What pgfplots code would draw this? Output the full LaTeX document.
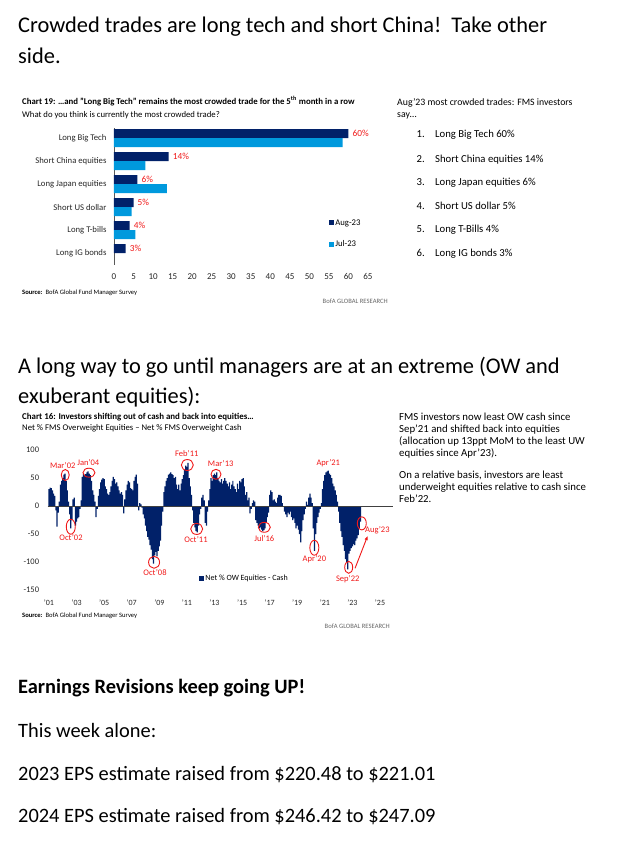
\documentclass[border=0pt]{standalone}
\usepackage{fontspec}
\setmainfont{Carlito}
\usepackage{pgfplots}
\usepackage{pgfplotstable}
\pgfplotsset{compat=1.18}
\usetikzlibrary{arrows.meta}

\definecolor{bofanavy}{RGB}{1,33,105}
\definecolor{bofasky}{RGB}{0,153,221}
\definecolor{annred}{RGB}{240,24,24}
\newcommand{\fs}[1]{\fontsize{#1}{#1}\selectfont}

\pgfplotsset{
  navysq/.style={legend image code/.code={\fill[bofanavy] (0pt,-2.5pt) rectangle (5pt,2.5pt);}},
  skysq/.style={legend image code/.code={\fill[bofasky] (0pt,-2.5pt) rectangle (5pt,2.5pt);}},
}

% Net % FMS OW equities - net % OW cash, monthly
\pgfplotstableread[row sep=\\]{
t v\\
2001.000 30\\2001.083 33\\2001.167 32\\2001.250 28\\2001.333 22\\2001.417 18\\2001.500 -8\\2001.583 -37\\2001.667 -12\\2001.750 8\\2001.833 38\\2001.917 45\\
2002.000 50\\2002.083 56\\2002.167 58\\2002.250 45\\2002.333 28\\2002.417 8\\2002.500 -15\\2002.583 -40\\2002.667 -25\\2002.750 12\\2002.833 15\\2002.917 -35\\
2003.000 -28\\2003.083 -22\\2003.167 -20\\2003.250 -5\\2003.333 10\\2003.417 52\\2003.500 58\\2003.583 55\\2003.667 57\\2003.750 60\\2003.833 62\\2003.917 58\\
2004.000 55\\2004.083 45\\2004.167 28\\2004.250 20\\2004.333 8\\2004.417 -20\\2004.500 -5\\2004.583 18\\2004.667 30\\2004.750 42\\2004.833 47\\2004.917 50\\
2005.000 48\\2005.083 35\\2005.167 30\\2005.250 22\\2005.333 20\\2005.417 25\\2005.500 35\\2005.583 45\\2005.667 52\\2005.750 48\\2005.833 40\\2005.917 42\\
2006.000 35\\2006.083 28\\2006.167 22\\2006.250 25\\2006.333 20\\2006.417 -13\\2006.500 12\\2006.583 28\\2006.667 38\\2006.750 45\\2006.833 42\\2006.917 32\\
2007.000 30\\2007.083 28\\2007.167 45\\2007.250 52\\2007.333 56\\2007.417 40\\2007.500 -8\\2007.583 5\\2007.667 3\\2007.750 -3\\2007.833 -15\\2007.917 -22\\
2008.000 -35\\2008.083 -45\\2008.167 -55\\2008.250 -60\\2008.333 -70\\2008.417 -78\\2008.500 -95\\2008.583 -103\\2008.667 -88\\2008.750 -82\\2008.833 -90\\2008.917 -80\\
2009.000 -72\\2009.083 -62\\2009.167 -35\\2009.250 -10\\2009.333 25\\2009.417 35\\2009.500 45\\2009.583 50\\2009.667 56\\2009.750 58\\2009.833 60\\2009.917 57\\
2010.000 55\\2010.083 50\\2010.167 52\\2010.250 38\\2010.333 30\\2010.417 38\\2010.500 28\\2010.583 40\\2010.667 48\\2010.750 55\\2010.833 65\\2010.917 72\\
2011.000 70\\2011.083 77\\2011.167 50\\2011.250 35\\2011.333 20\\2011.417 -8\\2011.500 -30\\2011.583 -38\\2011.667 -45\\2011.750 -47\\2011.833 -35\\2011.917 -15\\
2012.000 -5\\2012.083 15\\2012.167 20\\2012.250 10\\2012.333 -30\\2012.417 -35\\2012.500 -10\\2012.583 10\\2012.667 30\\2012.750 50\\2012.833 45\\2012.917 55\\
2013.000 58\\2013.083 55\\2013.167 60\\2013.250 50\\2013.333 45\\2013.417 42\\2013.500 48\\2013.583 40\\2013.667 45\\2013.750 50\\2013.833 45\\2013.917 40\\
2014.000 35\\2014.083 42\\2014.167 30\\2014.250 38\\2014.333 45\\2014.417 35\\2014.500 30\\2014.583 25\\2014.667 40\\2014.750 30\\2014.833 45\\2014.917 42\\
2015.000 48\\2015.083 50\\2015.167 35\\2015.250 20\\2015.333 25\\2015.417 10\\2015.500 15\\2015.583 -13\\2015.667 -5\\2015.750 5\\2015.833 10\\2015.917 8\\
2016.000 -25\\2016.083 -30\\2016.167 -35\\2016.250 -40\\2016.333 -38\\2016.417 -42\\2016.500 -45\\2016.583 -43\\2016.667 -40\\2016.750 -30\\2016.833 -20\\2016.917 -12\\
2017.000 20\\2017.083 28\\2017.167 25\\2017.250 10\\2017.333 12\\2017.417 8\\2017.500 5\\2017.583 15\\2017.667 20\\2017.750 20\\2017.833 18\\2017.917 5\\
2018.000 0\\2018.083 -10\\2018.167 -15\\2018.250 -20\\2018.333 -12\\2018.417 -15\\2018.500 -10\\2018.583 -20\\2018.667 -25\\2018.750 -22\\2018.833 -30\\2018.917 -40\\
2019.000 -35\\2019.083 -42\\2019.167 -50\\2019.250 -65\\2019.333 -45\\2019.417 -25\\2019.500 -15\\2019.583 -5\\2019.667 8\\2019.750 2\\2019.833 15\\2019.917 22\\
2020.000 15\\2020.083 5\\2020.167 -40\\2020.250 -80\\2020.333 -50\\2020.417 -30\\2020.500 -20\\2020.583 -12\\2020.667 -5\\2020.750 5\\2020.833 30\\2020.917 45\\
2021.000 55\\2021.083 60\\2021.167 62\\2021.250 63\\2021.333 58\\2021.417 55\\2021.500 50\\2021.583 40\\2021.667 35\\2021.750 28\\2021.833 20\\2021.917 8\\
2022.000 -10\\2022.083 -30\\2022.167 -45\\2022.250 -55\\2022.333 -70\\2022.417 -80\\2022.500 -95\\2022.583 -100\\2022.667 -113\\2022.750 -85\\2022.833 -80\\2022.917 -75\\
2023.000 -72\\2023.083 -68\\2023.167 -70\\2023.250 -62\\2023.333 -58\\2023.417 -52\\2023.500 -40\\2023.583 -28\\
}\fmsdata

\begin{document}
\begin{tikzpicture}[x=1pt,y=1pt]
\path[use as bounding box] (0,0) rectangle (618,-854);

% ---- headings ----
\node[anchor=base west, inner sep=0pt, font=\fs{22.4}] at (18,-32) {Crowded trades are long tech and short China!\ \ Take other};
\node[anchor=base west, inner sep=0pt, font=\fs{22.4}] at (18,-63) {side.};
\node[anchor=base west, inner sep=0pt, font=\fs{22.4}] at (18,-373) {A long way to go until managers are at an extreme (OW and};
\node[anchor=base west, inner sep=0pt, font=\fs{22.4}] at (18,-403) {exuberant equities):};

% ---- chart 19 texts ----
\node[anchor=base west, inner sep=0pt, font=\fs{8.8}\bfseries] at (22,-104.5) {Chart 19: …and "Long Big Tech" remains the most crowded trade for the 5\textsuperscript{th} month in a row};
\node[anchor=base west, inner sep=0pt, font=\fs{8.7}] at (22,-117) {What do you think is currently the most crowded trade?};
\node[anchor=base west, inner sep=0pt, font=\fs{6.6}] at (22,-294) {\textbf{Source:}\ \ BofA Global Fund Manager Survey};
\node[anchor=base east, inner sep=0pt, font=\fs{6.6}, text=black!60] at (388,-303) {BofA GLOBAL RESEARCH};

\node[anchor=base west, inner sep=0pt, font=\fs{9.8}] at (397,-105) {Aug'23 most crowded trades: FMS investors};
\node[anchor=base west, inner sep=0pt, font=\fs{9.8}] at (397,-117) {say…};
\foreach \n/\txt/\yy in {1./{Long Big Tech 60\%}/137.8, 2./{Short China equities 14\%}/162.2,
    3./{Long Japan equities 6\%}/185.5, 4./{Short US dollar 5\%}/209.2,
    5./{Long T-Bills 4\%}/232.2, 6./{Long IG bonds 3\%}/256.2}{
  \node[anchor=base west, inner sep=0pt, font=\fs{10.7}] at (416.5,-\yy) {\n};
  \node[anchor=base west, inner sep=0pt, font=\fs{10.7}] at (435,-\yy) {\txt};
}

% ---- chart 19 ----
\begin{axis}[
  at={(114pt,-128pt)}, anchor=north west,
  scale only axis, width=254pt, height=136.97pt,
  xbar, bar width=9pt,
  xmin=0, xmax=65, ymin=-0.52, ymax=5.435,
  enlargelimits=false, clip=false,
  xtick={0,5,...,65},
  ytick={0,...,5},
  yticklabels={Long IG bonds,Long T-bills,Short US dollar,Long Japan equities,Short China equities,Long Big Tech},
  axis lines*=left, axis line style={-},
  x axis line style={draw=none},
  y axis line style={black!65, line width=0.6pt},
  major tick length=0pt, tick style={draw=none},
  xticklabel style={font=\fs{9}, text=black!85, yshift=-5pt},
  yticklabel style={font=\fs{8.7}, text=black!85, xshift=-4pt},
  /pgf/number format/assume math mode=true,
  legend style={at={(axis cs:55,0.85)}, anchor=west, draw=none, fill=none,
    inner sep=0pt, row sep=11.5pt, font=\fs{8.7},
    nodes={inner sep=1.2pt, text height=6pt, text depth=1.5pt}},
  legend cell align=left,
]
\addplot[fill=bofanavy, draw=none, bar shift=4.5pt, navysq,
  point meta=x,
  nodes near coords={\pgfmathprintnumber{\pgfplotspointmeta}\%},
  nodes near coords align={horizontal},
  every node near coord/.append style={text=annred, font=\fs{9.3}, anchor=west, inner sep=0pt, xshift=4pt}]
  coordinates {(60,5) (14,4) (6,3) (5,2) (4,1) (3,0)};
\addlegendentry{Aug-23}
\addplot[fill=bofasky, draw=none, bar shift=-4.5pt, skysq]
  coordinates {(58.5,5) (8,4) (13.5,3) (4.5,2) (5.5,1)};
\addlegendentry{Jul-23}
\end{axis}

% ---- chart 16 texts ----
\node[anchor=base west, inner sep=0pt, font=\fs{8.9}\bfseries] at (22,-419.5) {Chart 16: Investors shifting out of cash and back into equities…};
\node[anchor=base west, inner sep=0pt, font=\fs{8.7}] at (22,-430.5) {Net \% FMS Overweight Equities – Net \% FMS Overweight Cash};
\node[anchor=base west, inner sep=0pt, font=\fs{6.6}] at (22,-617) {\textbf{Source:}\ \ BofA Global Fund Manager Survey};
\node[anchor=base east, inner sep=0pt, font=\fs{6.6}, text=black!60] at (390,-628) {BofA GLOBAL RESEARCH};

\foreach \txt/\yy in {{FMS investors now least OW cash since}/420,
    {Sep'21 and shifted back into equities}/432.5,
    {(allocation up 13ppt MoM to the least UW}/444,
    {equities since Apr'23).}/456,
    {On a relative basis, investors are least}/478,
    {underweight equities relative to cash since}/490.5,
    {Feb'22.}/502}{
  \node[anchor=base west, inner sep=0pt, font=\fs{10.8}] at (399,-\yy) {\txt};
}

% ---- chart 16 ----
\begin{axis}[
  at={(47.6pt,-450pt)}, anchor=north west, scale only axis,
  width=345.5pt, height=140pt,
  xmin=2000.9, xmax=2025.95, ymin=-150, ymax=100,
  enlargelimits=false, clip=false,
  ybar, bar width=0.09,
  xtick={2001,2003,...,2025},
  xticklabels={'01,'03,'05,'07,'09,'11,'13,'15,'17,'19,'21,'23,'25},
  ytick={-150,-100,-50,0,50,100},
  yticklabels={-150,-100,-50,0,50,100},
  axis lines*=left, axis line style={draw=none},
  major tick length=0pt, tick style={draw=none},
  xticklabel style={font=\fs{8}, text=black!85, yshift=-6pt},
  yticklabel style={font=\fs{8.5}, text=black!85, xshift=-5pt},
  legend style={at={(axis cs:2011.88,-128.6)}, anchor=west, draw=none, fill=none,
    inner sep=0pt, font=\fs{8}, nodes={inner sep=1.2pt}},
  legend cell align=left,
]
\addplot[fill=bofanavy, draw=none, navysq] table[x=t, y=v] {\fmsdata};
\addlegendentry{Net \% OW Equities - Cash}
\draw[black!75, line width=0.6pt] (axis cs:2000.9,0) -- (axis cs:2025.95,0);

% annotations
\begin{scope}[annred, line width=0.9pt]
\draw (axis cs:2002.18,55.4) ellipse [x radius=4pt, y radius=5.5pt];
\draw (axis cs:2003.9,59.5) ellipse [x radius=6pt, y radius=4.5pt];
\draw (axis cs:2002.58,-37) ellipse [x radius=4.5pt, y radius=7.5pt];
\draw (axis cs:2008.62,-100.5) ellipse [x radius=5.5pt, y radius=6pt];
\draw (axis cs:2011.03,73.2) ellipse [x radius=6pt, y radius=5.5pt];
\draw (axis cs:2013.11,56.6) ellipse [x radius=5pt, y radius=5pt];
\draw (axis cs:2011.71,-41) ellipse [x radius=6pt, y radius=5.5pt];
\draw (axis cs:2016.61,-38) ellipse [x radius=6pt, y radius=5pt];
\draw (axis cs:2020.24,-74.5) ellipse [x radius=4.5pt, y radius=7.5pt];
\draw (axis cs:2022.73,-109.5) ellipse [x radius=4pt, y radius=6pt];
\draw (axis cs:2023.68,-31) ellipse [x radius=4.5pt, y radius=6.5pt];
\draw[-{Latex[length=4.5pt,width=3.5pt]}] (axis cs:2023.19,-111.25) -- (axis cs:2024.11,-53);
\end{scope}
\begin{scope}[every node/.style={text=annred, font=\fs{8.5}, inner sep=0pt}]
\node at (axis cs:2002.0,71.4) {Mar'02};
\node at (axis cs:2003.85,77.3) {Jan'04};
\node at (axis cs:2002.6,-56.6) {Oct'02};
\node at (axis cs:2008.69,-119.6) {Oct'08};
\node at (axis cs:2010.99,92.9) {Feb'11};
\node at (axis cs:2013.45,75) {Mar'13};
\node at (axis cs:2011.66,-60.7) {Oct'11};
\node at (axis cs:2016.61,-58.9) {Jul'16};
\node at (axis cs:2020.24,-95.2) {Apr'20};
\node at (axis cs:2021.25,77.3) {Apr'21};
\node at (axis cs:2022.66,-130.9) {Sep'22};
\node at (axis cs:2024.81,-44.1) {Aug'23};
\end{scope}
\end{axis}

% ---- bottom text ----
\node[anchor=base west, inner sep=0pt, font=\fs{20.4}\bfseries] at (18,-693) {Earnings Revisions keep going UP!};
\node[anchor=base west, inner sep=0pt, font=\fs{20.4}] at (18,-737) {This week alone:};
\node[anchor=base west, inner sep=0pt, font=\fs{20.4}] at (18,-780) {2023 EPS estimate raised from \$220.48 to \$221.01};
\node[anchor=base west, inner sep=0pt, font=\fs{20.4}] at (18,-822) {2024 EPS estimate raised from \$246.42 to \$247.09};
\end{tikzpicture}
\end{document}
